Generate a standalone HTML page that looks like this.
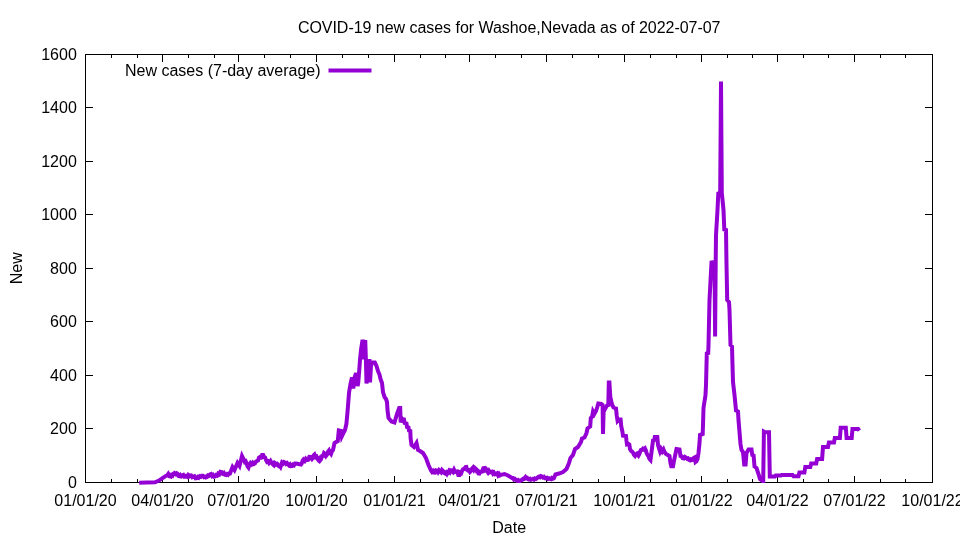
<!DOCTYPE html>
<html><head><meta charset="utf-8"><title>COVID-19 new cases for Washoe,Nevada</title>
<style>html,body{margin:0;padding:0;background:#fff}body{width:960px;height:540px;overflow:hidden}svg{display:block;will-change:transform}text{font-family:"Liberation Sans",Arial,sans-serif;font-size:16px;fill:#000}</style></head><body>
<svg width="960" height="540" viewBox="0 0 960 540">
<rect width="960" height="540" fill="#fff"/>
<path d="M85.5 482.5v-7.0M85.5 54.5v7.0M111.5 482.5v-3.5M111.5 54.5v3.5M137.5 482.5v-3.5M137.5 54.5v3.5M162.5 482.5v-7.0M162.5 54.5v7.0M188.5 482.5v-3.5M188.5 54.5v3.5M214.5 482.5v-3.5M214.5 54.5v3.5M238.5 482.5v-7.0M238.5 54.5v7.0M264.5 482.5v-3.5M264.5 54.5v3.5M290.5 482.5v-3.5M290.5 54.5v3.5M316.5 482.5v-7.0M316.5 54.5v7.0M342.5 482.5v-3.5M342.5 54.5v3.5M368.5 482.5v-3.5M368.5 54.5v3.5M394.5 482.5v-7.0M394.5 54.5v7.0M420.5 482.5v-3.5M420.5 54.5v3.5M445.5 482.5v-3.5M445.5 54.5v3.5M469.5 482.5v-7.0M469.5 54.5v7.0M495.5 482.5v-3.5M495.5 54.5v3.5M521.5 482.5v-3.5M521.5 54.5v3.5M546.5 482.5v-7.0M546.5 54.5v7.0M572.5 482.5v-3.5M572.5 54.5v3.5M598.5 482.5v-3.5M598.5 54.5v3.5M624.5 482.5v-7.0M624.5 54.5v7.0M650.5 482.5v-3.5M650.5 54.5v3.5M676.5 482.5v-3.5M676.5 54.5v3.5M701.5 482.5v-7.0M701.5 54.5v7.0M727.5 482.5v-3.5M727.5 54.5v3.5M752.5 482.5v-3.5M752.5 54.5v3.5M777.5 482.5v-7.0M777.5 54.5v7.0M803.5 482.5v-3.5M803.5 54.5v3.5M828.5 482.5v-3.5M828.5 54.5v3.5M854.5 482.5v-7.0M854.5 54.5v7.0M880.5 482.5v-3.5M880.5 54.5v3.5M905.5 482.5v-3.5M905.5 54.5v3.5M932.5 482.5v-7.0M932.5 54.5v7.0M85.5 482.5h7.0M933.0 482.5h-8.0M85.5 428.5h7.0M933.0 428.5h-8.0M85.5 375.5h7.0M933.0 375.5h-8.0M85.5 321.5h7.0M933.0 321.5h-8.0M85.5 268.5h7.0M933.0 268.5h-8.0M85.5 214.5h7.0M933.0 214.5h-8.0M85.5 161.5h7.0M933.0 161.5h-8.0M85.5 107.5h7.0M933.0 107.5h-8.0M85.5 54.5h7.0M933.0 54.5h-8.0" stroke="#000" stroke-width="1" fill="none" shape-rendering="crispEdges"/>
<rect x="85.5" y="54.5" width="847.0" height="428.0" fill="none" stroke="#000" stroke-width="1" shape-rendering="crispEdges"/>
<g text-anchor="end">
<text x="76.8" y="488.0">0</text>
<text x="76.8" y="434.0">200</text>
<text x="76.8" y="381.0">400</text>
<text x="76.8" y="327.0">600</text>
<text x="76.8" y="274.0">800</text>
<text x="76.8" y="220.0">1000</text>
<text x="76.8" y="167.0">1200</text>
<text x="76.8" y="113.0">1400</text>
<text x="76.8" y="60.0">1600</text>
</g>
<g text-anchor="middle">
<text x="85.5" y="506">01/01/20</text>
<text x="162.5" y="506">04/01/20</text>
<text x="238.5" y="506">07/01/20</text>
<text x="316.5" y="506">10/01/20</text>
<text x="394.5" y="506">01/01/21</text>
<text x="469.5" y="506">04/01/21</text>
<text x="546.5" y="506">07/01/21</text>
<text x="624.5" y="506">10/01/21</text>
<text x="701.5" y="506">01/01/22</text>
<text x="777.5" y="506">04/01/22</text>
<text x="854.5" y="506">07/01/22</text>
<text x="932.5" y="506">10/01/22</text>
<text x="509.2" y="32.5" textLength="422.6" lengthAdjust="spacing">COVID-19 new cases for Washoe,Nevada as of 2022-07-07</text>
<text x="509.2" y="532.7">Date</text>
<text transform="translate(21.9 268.2) rotate(-90)">New</text>
</g>
<text x="320.6" y="76" text-anchor="end">New cases (7-day average)</text>
<path d="M328.5 70.4H371.5" stroke="#9400d3" stroke-width="4" fill="none"/>
<path d="M139.2 482.8 L146.7 482.6 L155.0 482.3 L158.5 480.8 L162.5 478.1 L166.0 475.8 L167.2 475.5 L168.3 473.9 L169.5 476.3 L170.8 476.7 L171.6 475.1 L172.5 475.6 L173.3 473.8 L174.4 473.0 L175.6 474.1 L176.7 473.3 L177.5 473.9 L178.3 475.8 L179.4 476.2 L180.4 475.0 L181.4 476.2 L182.5 475.4 L183.3 475.0 L184.2 476.7 L185.0 476.7 L186.0 475.9 L187.0 476.6 L188.0 475.1 L189.0 476.4 L190.0 475.4 L191.1 475.5 L192.2 477.2 L193.3 476.7 L194.4 476.3 L195.6 478.4 L196.7 478.2 L197.7 477.0 L198.7 477.7 L199.7 476.4 L200.7 476.9 L201.7 475.8 L202.7 475.8 L203.8 477.1 L204.8 476.6 L205.8 477.5 L206.9 477.1 L207.9 475.4 L208.9 475.8 L210.0 474.5 L211.0 474.1 L212.0 475.9 L213.0 475.0 L214.0 476.7 L215.0 476.5 L216.1 475.0 L217.2 475.6 L218.2 473.7 L219.3 474.4 L220.4 471.8 L221.5 472.0 L222.6 473.6 L223.8 472.8 L224.9 474.8 L226.0 475.0 L227.0 474.1 L228.0 474.8 L229.0 473.5 L230.0 473.5 L232.5 467.0 L234.5 470.0 L237.5 463.0 L239.5 466.0 L242.0 456.0 L244.0 460.0 L244.8 461.9 L245.7 461.3 L246.5 463.0 L247.5 466.2 L248.5 467.5 L249.5 464.6 L250.5 463.0 L251.7 464.3 L252.8 462.7 L254.0 464.0 L255.0 463.4 L256.0 461.5 L257.0 461.0 L258.0 460.6 L259.0 457.6 L260.0 457.0 L261.1 457.4 L262.1 455.0 L263.2 455.0 L264.1 457.1 L265.1 457.5 L266.0 460.0 L267.0 461.9 L268.0 461.4 L269.0 463.0 L270.5 461.0 L271.3 462.6 L272.2 462.7 L273.0 464.5 L273.8 465.2 L274.7 462.9 L275.5 463.5 L276.3 464.5 L277.2 463.9 L278.0 465.0 L278.8 466.1 L279.7 465.9 L280.5 467.0 L282.0 462.5 L283.0 463.4 L284.0 462.0 L285.0 462.5 L286.0 463.9 L287.0 463.1 L288.0 464.5 L289.0 465.4 L290.0 464.4 L291.0 466.1 L292.0 466.0 L293.0 464.6 L294.0 465.2 L295.0 463.5 L296.0 463.5 L301.0 464.5 L301.8 463.4 L302.7 460.5 L303.5 459.5 L304.7 460.8 L305.8 458.8 L307.0 460.0 L308.2 459.7 L309.3 456.9 L310.5 457.0 L312.0 459.0 L312.8 458.1 L313.7 455.3 L314.5 454.5 L315.5 457.1 L316.5 456.6 L317.5 459.0 L318.3 460.0 L319.2 458.8 L320.0 460.5 L321.0 459.2 L322.0 456.1 L323.0 455.9 L324.0 453.0 L325.0 453.8 L326.0 456.0 L327.0 454.8 L328.0 451.8 L329.0 450.5 L330.0 452.8 L331.0 454.0 L332.0 451.1 L333.0 450.0 L334.5 443.0 L337.8 441.0 L338.8 430.5 L341.0 431.0 L341.8 436.5 L343.5 433.0 L345.0 430.0 L346.4 424.0 L347.6 411.0 L349.0 393.0 L350.5 384.0 L352.0 377.5 L353.3 388.5 L354.5 378.0 L356.0 373.0 L357.6 386.0 L358.2 383.0 L359.2 371.0 L360.0 360.0 L361.0 350.0 L362.3 341.5 L363.0 341.5 L363.5 357.5 L364.0 357.5 L364.5 342.0 L365.3 342.0 L365.9 360.0 L366.5 383.5 L367.5 374.0 L368.5 361.0 L369.5 361.0 L370.0 382.5 L371.0 366.0 L372.0 362.5 L374.8 362.5 L376.5 366.0 L378.0 371.0 L379.5 374.5 L380.5 379.0 L382.0 383.0 L383.0 392.0 L384.5 397.0 L386.0 399.0 L387.0 402.0 L387.5 410.0 L388.5 418.0 L391.5 421.5 L394.5 422.5 L397.0 414.0 L399.2 408.0 L400.2 408.0 L400.7 422.5 L401.6 418.0 L403.0 419.5 L404.0 419.5 L404.6 423.0 L406.5 423.5 L407.0 427.0 L408.5 427.5 L409.0 430.5 L410.3 431.0 L410.6 438.0 L411.5 445.0 L414.0 447.0 L416.5 443.0 L418.0 450.0 L420.0 451.0 L423.0 453.0 L426.0 458.0 L428.5 465.0 L431.0 470.5 L432.0 471.9 L433.0 470.9 L434.0 472.5 L435.0 472.6 L436.0 470.3 L437.0 470.5 L438.0 472.1 L439.0 470.3 L440.0 471.5 L441.0 472.3 L442.0 470.0 L443.0 471.0 L444.0 472.9 L445.0 473.5 L446.0 472.5 L447.0 474.1 L448.0 472.5 L449.0 470.8 L450.0 472.2 L451.0 470.3 L452.0 470.5 L453.0 471.8 L454.0 469.7 L455.0 471.9 L456.0 471.5 L457.2 471.4 L458.3 475.0 L459.5 475.0 L460.3 472.7 L461.2 473.2 L462.0 471.0 L463.2 469.1 L464.3 468.9 L465.5 467.0 L466.3 466.9 L467.2 470.0 L468.0 470.5 L469.0 470.2 L470.0 472.0 L471.0 471.0 L472.0 468.5 L473.0 467.5 L474.0 469.7 L475.0 468.1 L476.0 469.0 L476.8 471.1 L477.7 470.9 L478.5 473.5 L479.3 473.6 L480.2 471.8 L481.0 472.0 L482.2 471.6 L483.3 468.2 L484.5 468.0 L485.3 470.0 L486.2 469.3 L487.0 471.0 L488.0 472.5 L489.0 470.8 L490.0 472.3 L491.0 472.0 L492.0 471.7 L493.0 473.7 L494.0 472.7 L495.0 474.2 L496.0 474.0 L497.0 473.4 L498.0 475.3 L499.0 473.9 L500.0 475.4 L501.0 474.8 L504.5 474.0 L508.0 475.5 L512.0 478.0 L513.0 478.0 L514.0 479.6 L515.0 479.0 L516.0 480.0 L517.0 480.7 L518.0 480.1 L519.0 481.0 L520.0 481.0 L521.0 480.3 L522.0 480.2 L523.0 478.9 L524.0 479.0 L525.5 477.0 L526.3 478.1 L527.2 477.8 L528.0 479.0 L529.0 479.4 L530.0 478.8 L531.0 479.8 L532.0 479.5 L533.0 478.9 L534.0 479.6 L535.0 478.5 L536.0 479.0 L537.0 478.3 L538.0 477.0 L539.0 476.5 L540.0 477.2 L541.0 476.1 L542.0 476.5 L543.0 477.4 L544.0 476.8 L545.0 478.1 L546.0 478.0 L547.0 477.7 L548.0 478.9 L549.0 478.3 L550.0 479.0 L551.0 479.3 L552.0 478.0 L553.0 478.6 L554.0 478.0 L555.5 474.5 L559.0 473.5 L563.0 472.0 L566.5 469.0 L569.0 463.0 L570.5 458.0 L573.0 455.0 L575.0 449.0 L578.0 447.0 L581.0 442.0 L582.0 438.5 L584.5 437.5 L586.5 433.0 L587.5 428.5 L590.2 426.5 L590.8 418.0 L592.0 417.0 L593.0 411.5 L594.3 414.0 L596.0 411.0 L597.3 407.0 L598.3 403.5 L601.3 404.0 L602.6 405.0 L603.0 434.0 L603.6 412.0 L605.0 409.0 L607.0 405.5 L608.3 405.0 L608.8 382.5 L609.4 382.5 L610.3 397.0 L612.0 404.5 L613.5 407.5 L616.0 408.5 L616.8 416.0 L617.6 421.0 L619.0 419.5 L620.6 419.5 L621.2 426.0 L622.5 432.0 L623.0 435.7 L626.0 436.0 L626.5 441.0 L627.0 444.2 L628.1 443.8 L629.3 444.5 L630.0 449.0 L631.0 450.8 L632.0 451.5 L633.0 452.5 L634.0 455.0 L635.0 456.0 L636.0 454.3 L637.0 453.5 L638.5 455.5 L639.3 454.1 L640.2 451.3 L641.0 450.0 L642.0 449.9 L643.0 448.7 L644.0 449.5 L645.0 448.5 L645.8 450.1 L646.7 453.4 L647.5 455.0 L648.5 456.3 L649.5 458.9 L650.5 460.0 L652.3 446.0 L653.0 440.5 L654.3 440.0 L654.8 437.0 L657.3 437.0 L658.0 445.0 L659.0 448.5 L660.0 451.5 L661.0 449.0 L662.3 451.5 L663.5 449.5 L664.5 452.0 L666.0 454.0 L669.5 456.0 L670.5 463.0 L671.3 466.3 L673.0 466.3 L673.8 462.0 L675.0 456.0 L676.5 449.0 L679.5 449.5 L680.5 456.0 L681.5 456.3 L682.5 458.0 L683.7 458.4 L684.8 456.8 L686.0 457.5 L687.0 458.7 L688.0 458.4 L689.0 460.0 L690.0 460.4 L691.0 459.3 L692.0 460.0 L692.8 459.8 L693.7 457.9 L694.5 457.5 L695.5 462.0 L696.5 461.2 L697.5 459.0 L698.5 453.0 L699.5 443.0 L700.0 435.0 L702.7 434.0 L703.0 425.0 L703.5 408.0 L705.5 395.0 L706.0 385.0 L706.5 365.0 L706.8 353.5 L708.2 353.0 L708.5 345.0 L709.5 300.0 L711.5 262.5 L714.5 262.0 L715.1 336.5 L715.7 262.0 L716.0 235.0 L717.5 210.0 L718.3 193.5 L720.2 193.0 L721.0 81.5 L721.8 193.0 L723.5 210.0 L724.3 229.5 L726.0 230.0 L726.5 264.0 L727.2 300.0 L729.0 302.0 L729.5 310.0 L730.5 345.0 L732.0 346.5 L732.5 365.0 L733.0 382.0 L734.5 395.0 L735.0 400.0 L736.0 410.5 L738.0 411.5 L738.5 420.0 L739.5 432.0 L740.5 444.0 L741.5 450.0 L743.0 452.0 L744.2 464.5 L745.6 464.5 L746.5 453.0 L748.5 449.5 L751.5 449.5 L752.3 455.0 L753.6 455.5 L754.5 466.5 L756.5 468.0 L758.5 474.0 L760.0 479.0 L762.5 481.0 L763.2 481.0 L763.9 431.7 L764.9 432.3 L769.0 432.2 L769.8 476.5 L774.9 476.5 L775.7 475.5 L780.8 475.5 L781.6 475.0 L786.7 475.0 L787.5 475.0 L792.6 475.0 L793.5 476.3 L798.5 476.3 L799.4 472.5 L804.4 472.5 L805.3 467.0 L810.3 467.0 L811.2 463.5 L816.2 463.5 L817.1 459.0 L822.1 459.0 L823.0 447.0 L828.0 447.0 L828.9 442.5 L834.0 442.5 L834.8 438.0 L839.9 438.0 L840.7 427.7 L845.8 427.7 L846.6 438.0 L851.7 438.0 L852.5 429.0 L858.2 429.0 L859.3 430.6" stroke="#9400d3" stroke-width="4" fill="none" stroke-linejoin="miter" stroke-miterlimit="4" stroke-linecap="butt"/>
</svg>
</body></html>
